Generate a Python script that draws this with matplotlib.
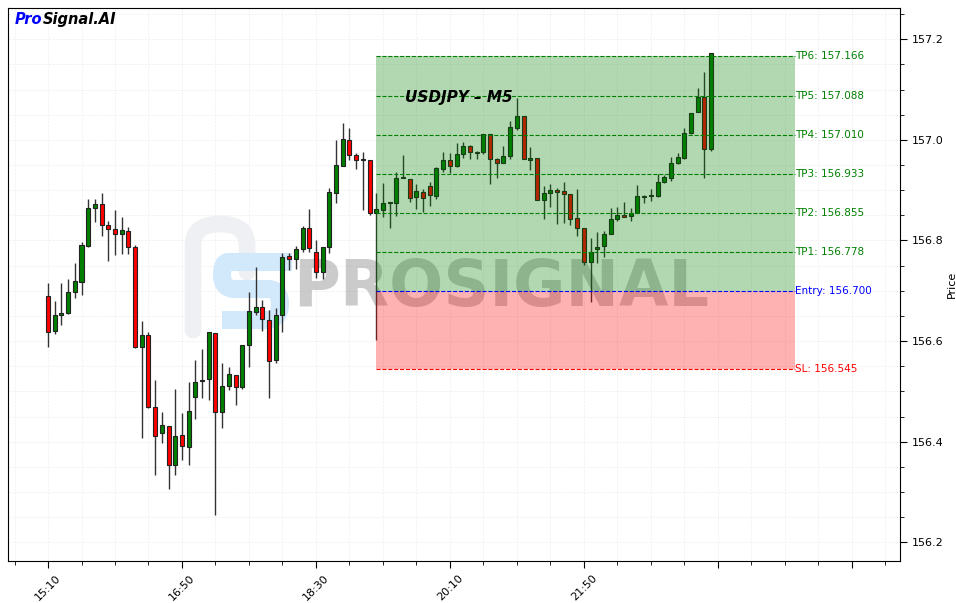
import numpy as np
import matplotlib
matplotlib.use('Agg')
import matplotlib.pyplot as plt
from matplotlib.patches import Rectangle
from matplotlib.path import Path
from matplotlib.patches import PathPatch
from matplotlib.ticker import FixedLocator, FixedFormatter

# candle data (USDJPY, 5 minute bars starting 15:10)
opens = [156.689, 156.621, 156.651, 156.655, 156.697, 156.717, 156.790, 156.864, 156.872, 156.830,
         156.822, 156.812, 156.818, 156.787, 156.588, 156.612, 156.469, 156.417, 156.431, 156.353,
         156.413, 156.389, 156.488, 156.520, 156.524, 156.616, 156.459, 156.510, 156.532, 156.508,
         156.592, 156.657, 156.667, 156.642, 156.562, 156.651, 156.769, 156.763, 156.783, 156.825,
         156.777, 156.737, 156.787, 156.894, 156.948, 156.999, 156.970, 156.960, 156.960, 156.854,
         156.860, 156.874, 156.874, 156.924, 156.922, 156.886, 156.896, 156.908, 156.888, 156.942,
         156.960, 156.948, 156.972, 156.987, 156.973, 156.975, 157.011, 156.962, 156.954, 156.968,
         157.023, 157.047, 156.960, 156.964, 156.880, 156.894, 156.900, 156.898, 156.892, 156.844,
         156.824, 156.757, 156.783, 156.789, 156.812, 156.842, 156.850, 156.848, 156.854, 156.886,
         156.888, 156.888, 156.916, 156.924, 156.954, 156.964, 157.013, 157.055, 157.085, 156.981]
highs = [156.716, 156.679, 156.715, 156.724, 156.755, 156.797, 156.882, 156.882, 156.894, 156.838,
         156.860, 156.846, 156.826, 156.791, 156.640, 156.618, 156.522, 156.459, 156.431, 156.504,
         156.457, 156.518, 156.562, 156.584, 156.618, 156.616, 156.556, 156.548, 156.532, 156.592,
         156.697, 156.747, 156.681, 156.661, 156.665, 156.775, 156.775, 156.789, 156.829, 156.862,
         156.801, 156.787, 156.904, 156.999, 157.033, 157.023, 156.974, 156.976, 156.960, 156.894,
         156.914, 156.875, 156.936, 156.970, 156.922, 156.912, 156.902, 156.916, 156.946, 156.975,
         156.974, 156.993, 156.995, 156.989, 156.977, 157.011, 157.011, 156.964, 156.987, 157.037,
         157.083, 157.047, 156.985, 156.964, 156.908, 156.912, 156.904, 156.916, 156.892, 156.902,
         156.824, 156.805, 156.816, 156.818, 156.864, 156.866, 156.876, 156.864, 156.910, 156.890,
         156.902, 156.932, 156.930, 156.966, 156.974, 157.023, 157.053, 157.103, 157.135, 157.172]
lows = [156.588, 156.614, 156.632, 156.653, 156.685, 156.691, 156.787, 156.836, 156.808, 156.759,
        156.771, 156.773, 156.773, 156.586, 156.407, 156.468, 156.333, 156.397, 156.306, 156.333,
        156.363, 156.353, 156.445, 156.486, 156.482, 156.254, 156.427, 156.503, 156.473, 156.504,
        156.548, 156.651, 156.620, 156.486, 156.556, 156.618, 156.741, 156.743, 156.777, 156.777,
        156.725, 156.723, 156.775, 156.874, 156.948, 156.960, 156.942, 156.861, 156.850, 156.602,
        156.846, 156.824, 156.849, 156.924, 156.876, 156.862, 156.856, 156.868, 156.882, 156.936,
        156.934, 156.946, 156.964, 156.962, 156.962, 156.971, 156.912, 156.924, 156.954, 156.962,
        157.019, 156.962, 156.940, 156.880, 156.842, 156.866, 156.832, 156.834, 156.830, 156.808,
        156.751, 156.677, 156.755, 156.767, 156.812, 156.838, 156.846, 156.838, 156.854, 156.874,
        156.878, 156.886, 156.914, 156.918, 156.952, 156.962, 157.011, 157.055, 156.924, 156.977]
closes = [156.618, 156.651, 156.655, 156.697, 156.719, 156.791, 156.864, 156.872, 156.830, 156.822,
          156.812, 156.820, 156.787, 156.588, 156.612, 156.470, 156.412, 156.433, 156.353, 156.411,
          156.391, 156.461, 156.518, 156.522, 156.618, 156.459, 156.510, 156.534, 156.508, 156.592,
          156.660, 156.667, 156.644, 156.560, 156.651, 156.767, 156.763, 156.783, 156.825, 156.785,
          156.737, 156.787, 156.896, 156.950, 157.001, 156.970, 156.960, 156.960, 156.854, 156.862,
          156.874, 156.874, 156.924, 156.925, 156.884, 156.898, 156.884, 156.890, 156.944, 156.960,
          156.948, 156.972, 156.987, 156.975, 156.975, 157.011, 156.962, 156.954, 156.968, 157.025,
          157.047, 156.962, 156.964, 156.880, 156.894, 156.900, 156.896, 156.892, 156.842, 156.824,
          156.757, 156.777, 156.787, 156.812, 156.842, 156.850, 156.846, 156.854, 156.888, 156.888,
          156.888, 156.916, 156.926, 156.954, 156.966, 157.013, 157.053, 157.085, 156.981, 157.172]

# x tick labels (every 20 bars = 100 min)
major_ticks = [0, 20, 40, 60, 80, 100, 120]
tick_labels = ['15:10', '16:50', '18:30', '20:10', '21:50', '', '']

# trade levels
tp_levels = [156.778, 156.855, 156.933, 157.010, 157.088, 157.166]
tp_names = ['TP1', 'TP2', 'TP3', 'TP4', 'TP5', 'TP6']
entry = 156.700
sl = 156.545
zone_start = 49
zone_end = 111.6

fig = plt.figure(figsize=(9.56, 6.03), dpi=100)
ax = fig.add_axes([0.0084, 0.0697, 0.9330, 0.9170])


def px(x, y):
    # pixel position in the picture -> axes fraction
    return ((x - 8) / 892.0, (561 - y) / 553.0)


# watermark logo (rough shapes)
gray_path = Path([px(193, 330), px(193, 245), px(193, 224), px(220, 224), px(247, 224),
                  px(247, 245), px(247, 272)],
                 [Path.MOVETO, Path.LINETO, Path.CURVE3, Path.CURVE3, Path.CURVE3, Path.CURVE3,
                  Path.LINETO])
ax.add_patch(PathPatch(gray_path, transform=ax.transAxes, facecolor='none', edgecolor='#eef0f3',
                       linewidth=12, capstyle='round', joinstyle='round', zorder=1))
blue_path = Path([px(292, 262), px(228, 262), px(222, 262), px(222, 275), px(222, 289),
                  px(235, 289), px(268, 289), px(280, 289), px(280, 304), px(280, 320),
                  px(266, 320), px(222, 320)],
                 [Path.MOVETO, Path.LINETO, Path.CURVE3, Path.CURVE3, Path.CURVE3, Path.CURVE3,
                  Path.LINETO, Path.CURVE3, Path.CURVE3, Path.CURVE3, Path.CURVE3, Path.LINETO])
ax.add_patch(PathPatch(blue_path, transform=ax.transAxes, facecolor='none', edgecolor='#d2e8fb',
                       linewidth=13, capstyle='butt', joinstyle='round', zorder=1))
ax.text(0.553, 0.494, 'PROSIGNAL', transform=ax.transAxes, fontsize=46, fontweight='heavy',
        color='#999999', alpha=0.5, ha='center', va='center', zorder=1)

# candles
x = np.arange(len(opens))
o = np.array(opens); h = np.array(highs); l = np.array(lows); c = np.array(closes)
up = c >= o
colors = np.where(up, 'green', 'red')
ax.vlines(x, l, h, color='#333333', linewidth=1, zorder=2)
body = np.maximum(np.abs(c - o), 0.0015)
ax.bar(x, body, width=0.6, bottom=np.minimum(o, c), color=colors,
       edgecolor='#222222', linewidth=0.8, zorder=3)

# zones
ax.add_patch(Rectangle((zone_start, entry), zone_end - zone_start, tp_levels[-1] - entry,
                       facecolor='green', alpha=0.3, edgecolor='none', zorder=4))
ax.add_patch(Rectangle((zone_start, sl), zone_end - zone_start, entry - sl,
                       facecolor='red', alpha=0.3, edgecolor='none', zorder=4))

for name, lvl in zip(tp_names, tp_levels):
    ax.hlines(lvl, zone_start, zone_end, colors='green', linestyles='--', linewidth=0.8, zorder=5)
    ax.text(zone_end, lvl, '%s: %.3f' % (name, lvl), color='green', fontsize=7.5,
            va='center', ha='left', zorder=6)
ax.hlines(entry, zone_start, zone_end, colors='blue', linestyles='--', linewidth=0.8, zorder=5)
ax.text(zone_end, entry, 'Entry: %.3f' % entry, color='blue', fontsize=7.5, va='center', ha='left', zorder=6)
ax.hlines(sl, zone_start, zone_end, colors='red', linestyles='--', linewidth=0.8, zorder=5)
ax.text(zone_end, sl, 'SL: %.3f' % sl, color='red', fontsize=7.5, va='center', ha='left', zorder=6)

# titles
ax.text(0.445, 0.839, 'USDJPY – M5', transform=ax.transAxes, fontsize=11, fontweight='bold',
        fontstyle='italic', ha='left', va='center', zorder=7)
t1 = ax.text(0.008, 0.980, 'Pro', transform=ax.transAxes, fontsize=10.5, fontweight='bold',
             fontstyle='italic', color='blue', ha='left', va='center', zorder=7)
ax.annotate('Signal.AI', xy=(1, 0), xycoords=t1, xytext=(0, 0), textcoords='offset points',
            fontsize=10.5, fontweight='bold', fontstyle='italic', color='black',
            ha='left', va='bottom', zorder=7)

# axes
ax.set_xlim(-5.97, 127.2)
ax.set_ylim(156.163, 157.262)
ax.xaxis.set_major_locator(FixedLocator(major_ticks))
ax.xaxis.set_major_formatter(FixedFormatter(tick_labels))
ax.xaxis.set_minor_locator(FixedLocator(np.arange(-5, 127, 5)))
ax.set_yticks(np.arange(156.2, 157.25, 0.2))
ax.yaxis.set_minor_locator(FixedLocator(np.arange(156.2, 157.26, 0.05)))
ax.yaxis.set_major_formatter(plt.FormatStrFormatter('%.1f'))
ax.yaxis.tick_right()
ax.yaxis.set_label_position('right')
ax.set_ylabel('Price', fontsize=8, labelpad=2)
ax.tick_params(axis='both', which='major', labelsize=8, length=5)
ax.tick_params(axis='both', which='minor', length=3)
plt.setp(ax.get_xticklabels(), rotation=45)
ax.grid(True, which='both', color='#eeeeee', linestyle='--', linewidth=0.5, zorder=0)
ax.set_axisbelow(True)

fig.savefig('out.png', dpi=100)
